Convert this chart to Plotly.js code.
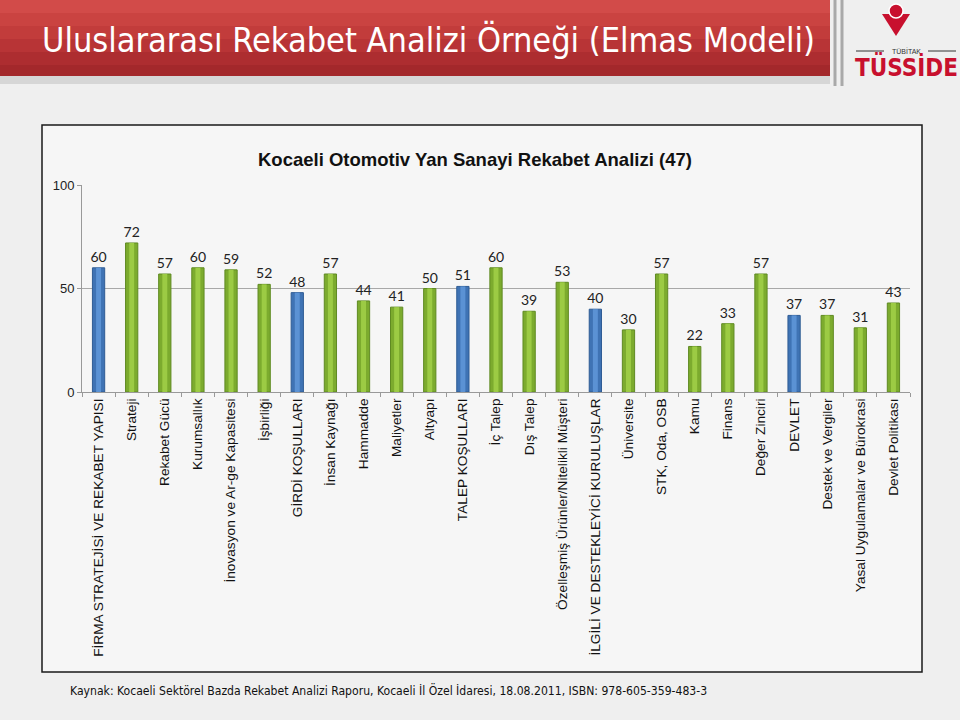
<!DOCTYPE html>
<html>
<head>
<meta charset="utf-8">
<script src="https://cdn.plot.ly/plotly-3.0.1.min.js"></script>
<style>
  html, body { margin: 0; padding: 0; background: #efefef; }
  #chart { width: 960px; height: 720px; }
</style>
</head>
<body>
<div id="chart"></div>
<script>
// Porter diamond sub-factors and their scores
const categories = [
    'FİRMA STRATEJİSİ VE REKABET YAPISI', 'Strateji', 'Rekabet Gücü', 'Kurumsallık',
    'İnovasyon ve Ar-ge Kapasitesi', 'İşbirliği', 'GİRDİ KOŞULLARI', 'İnsan Kaynağı',
    'Hammadde', 'Maliyetler', 'Altyapı', 'TALEP KOŞULLARI', 'İç Talep', 'Dış Talep',
    'Özelleşmiş Ürünler/Nitelikli Müşteri', 'İLGİLİ VE DESTEKLEYİCİ KURULUŞLAR', 'Üniversite',
    'STK, Oda, OSB', 'Kamu', 'Finans', 'Değer Zinciri', 'DEVLET', 'Destek ve Vergiler',
    'Yasal Uygulamalar ve Bürokrasi', 'Devlet Politikası'
];
const scores = [60, 72, 57, 60, 59, 52, 48, 57, 44, 41, 50, 51, 60, 39, 53, 40, 30, 57, 22, 33, 57, 37, 37, 31, 43];
const mainFactors = ['FİRMA STRATEJİSİ VE REKABET YAPISI', 'GİRDİ KOŞULLARI', 'TALEP KOŞULLARI',
    'İLGİLİ VE DESTEKLEYİCİ KURULUŞLAR', 'DEVLET'];
const yTicks = [0, 50, 100];

const slideTitle = 'Uluslararası Rekabet Analizi Örneği (Elmas Modeli)';
const chartTitle = 'Kocaeli Otomotiv Yan Sanayi Rekabet Analizi (47)';
const sourceText = 'Kaynak: Kocaeli Sektörel Bazda Rekabet Analizi Raporu, Kocaeli İl Özel İdaresi, 18.08.2011, ISBN: 978-605-359-483-3';

// page geometry -> paper coordinates
const W = 960, H = 720, L = 82, R = 50, T = 185, B = 328;
const pw = W - L - R, ph = H - T - B;
const px = x => (x - L) / pw;
const py = y => (H - B - y) / ph;

const isMain = categories.map(c => mainFactors.includes(c));
const outerColors = isMain.map(m => m ? '#3f73b4' : '#7cab2e');
const innerColors = isMain.map(m => m ? '#5b92d4' : '#9ccb44');
const edgeColors = isMain.map(m => m ? '#2f5c94' : '#5f8a22');

let bars = {
    x: categories,
    y: scores,
    type: 'bar',
    width: 0.37,
    marker: { color: outerColors, line: { color: edgeColors, width: 1 } },
    text: scores.map(String),
    textposition: 'outside',
    constraintext: 'none',
    textfont: { family: 'Lato, sans-serif', size: 14, color: '#222' },
    cliponaxis: false,
    hoverinfo: 'x+y'
};

let highlight = {
    x: categories,
    y: scores,
    type: 'bar',
    width: 0.15,
    marker: { color: innerColors },
    hoverinfo: 'skip'
};

// banner drawn as bands to fake the gradient
const bandColors = ['#d24b49', '#ca4341', '#c23c3b', '#b83436', '#ad2d30', '#a3282b'];
let shapes = [];
bandColors.forEach((c, i) => {
    shapes.push({
        type: 'rect', xref: 'paper', yref: 'paper', layer: 'below',
        x0: px(0), x1: px(830), y0: py(i * 13), y1: py(Math.min(76, (i + 1) * 13)),
        fillcolor: c, line: { width: 0 }
    });
});
shapes.push(
    { type: 'rect', xref: 'paper', yref: 'paper', layer: 'below',
      x0: px(0), x1: px(830), y0: py(76), y1: py(84), fillcolor: '#d6d6d6', line: { width: 0 } },
    { type: 'line', xref: 'paper', yref: 'paper', x0: px(835), x1: px(835), y0: py(0), y1: py(86),
      line: { color: '#a9a9a9', width: 3 } },
    { type: 'line', xref: 'paper', yref: 'paper', x0: px(842), x1: px(842), y0: py(0), y1: py(86),
      line: { color: '#a9a9a9', width: 3 } },
    // chart frame
    { type: 'rect', xref: 'paper', yref: 'paper', layer: 'below',
      x0: px(42), x1: px(922), y0: py(125), y1: py(672),
      fillcolor: '#f6f6f6', line: { color: '#1a1a1a', width: 1.5 } },
    // logo emblem
    { type: 'path', xref: 'paper', yref: 'paper',
      path: `M ${px(882)},${py(14)} L ${px(910)},${py(14)} L ${px(896)},${py(36)} Z`,
      fillcolor: '#c8102e', line: { width: 0 } },
    { type: 'circle', xref: 'paper', yref: 'paper',
      x0: px(889), x1: px(903), y0: py(4), y1: py(18),
      fillcolor: '#c8102e', line: { color: '#ffffff', width: 1.5 } },
    { type: 'line', xref: 'paper', yref: 'paper', x0: px(856), x1: px(884), y0: py(51), y1: py(51),
      line: { color: '#333', width: 1 } },
    { type: 'line', xref: 'paper', yref: 'paper', x0: px(928), x1: px(956), y0: py(51), y1: py(51),
      line: { color: '#333', width: 1 } }
);

const narrow = 'Liberation Sans Narrow, DejaVu Sans Condensed, sans-serif';
function note(text, x, y, font, xanchor) {
    return { text: text, xref: 'paper', yref: 'paper', x: px(x), y: py(y), showarrow: false,
             xanchor: xanchor || 'center', yanchor: 'middle', font: font };
}

let annotations = [
    note(slideTitle, 428, 40, { family: narrow, size: 34, color: '#ffffff' }),
    note('<b>' + chartTitle + '</b>', 475, 160, { family: 'Liberation Sans, Arial, sans-serif', size: 18.5, color: '#111' }),
    note(sourceText, 68, 690, { family: narrow, size: 12.1, color: '#111' }, 'left'),
    note('TÜBİTAK', 906, 51, { family: 'Liberation Sans, sans-serif', size: 7, color: '#333' }),
    note('<b>TÜSSİDE</b>', 906, 67, { family: narrow, size: 24, color: '#c8102e' })
];

let layout = {
    width: W,
    height: H,
    margin: { l: L, r: R, t: T, b: B },
    paper_bgcolor: '#efefef',
    plot_bgcolor: 'rgba(0,0,0,0)',
    barmode: 'overlay',
    showlegend: false,
    xaxis: {
        type: 'category',
        range: [-0.5, categories.length - 0.5],
        tickangle: -90,
        tickfont: { family: 'Liberation Sans, Arial, sans-serif', size: 13.7, color: '#111' },
        ticks: 'outside', tickson: 'boundaries', ticklen: 4, tickcolor: '#999',
        showline: true, linecolor: '#999', linewidth: 1,
        showgrid: false, fixedrange: true
    },
    yaxis: {
        range: [0, 100],
        tickvals: yTicks,
        tickfont: { family: 'Liberation Sans, Arial, sans-serif', size: 13, color: '#222' },
        ticks: 'outside', ticklen: 4, tickcolor: '#999',
        showline: true, linecolor: '#999', linewidth: 1,
        showgrid: true, gridcolor: '#a8a8a8', gridwidth: 1,
        zeroline: false, fixedrange: true
    },
    shapes: shapes,
    annotations: annotations
};

Plotly.newPlot('chart', [bars, highlight], layout, { displayModeBar: false, staticPlot: true });
</script>
</body>
</html>
